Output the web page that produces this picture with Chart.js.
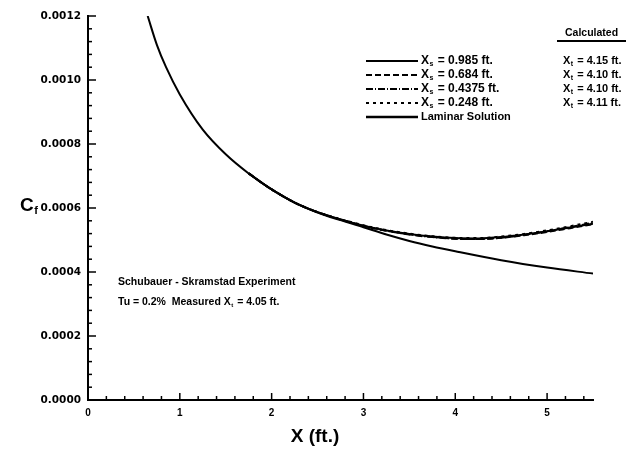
<!DOCTYPE html>
<html>
<head>
<meta charset="utf-8">
<script src="https://cdn.jsdelivr.net/npm/chart.js@4.4.1/dist/chart.umd.min.js"></script>
<style>
  html, body { margin: 0; padding: 0; background: #fff; }
  #wrap { width: 639px; height: 455px; }
</style>
</head>
<body>
<div id="wrap"><canvas id="cf-chart" width="639" height="455"></canvas></div>
<script>
/* laminar solution */
const laminarX = [0.65, 0.75, 0.85, 1.0, 1.25, 1.5, 1.75, 2.0, 2.25, 2.5, 2.75, 3.0, 3.25, 3.5, 3.75, 4.0, 4.5, 5.0, 5.5];
const laminarCf = [0.00120, 0.00111, 0.00104, 0.000955, 0.000845, 0.000768, 0.000708, 0.000658, 0.000617, 0.000586, 0.000562, 0.000540, 0.000517, 0.000497, 0.000480, 0.000465, 0.000437, 0.000414, 0.000395];

/* transitional runs, one per starting location */
const transX = [1.75, 2.0, 2.25, 2.5, 2.75, 3.0, 3.25, 3.5, 3.75, 4.0, 4.25, 4.5, 4.75, 5.0, 5.25, 5.5];
const cfXs0985 = [0.000708, 0.000658, 0.000617, 0.000587, 0.000564, 0.000545, 0.000530, 0.000519, 0.000511, 0.000506, 0.000505, 0.000509, 0.000517, 0.000527, 0.000539, 0.000551];
const cfXs0684 = [0.000708, 0.000658, 0.000617, 0.000587, 0.000564, 0.000544, 0.000529, 0.000518, 0.000510, 0.000504, 0.000503, 0.000507, 0.000515, 0.000525, 0.000537, 0.000549];
const cfXs04375 = [0.000708, 0.000658, 0.000617, 0.000587, 0.000564, 0.000544, 0.000529, 0.000517, 0.000509, 0.000504, 0.000503, 0.000507, 0.000516, 0.000527, 0.000540, 0.000554];
const cfXs0248 = [0.000708, 0.000658, 0.000617, 0.000587, 0.000565, 0.000546, 0.000531, 0.000520, 0.000512, 0.000507, 0.000506, 0.000511, 0.000519, 0.000530, 0.000543, 0.000557];

const seriesLabels = ["= 0.985 ft.", "= 0.684 ft.", "= 0.4375 ft.", "= 0.248 ft."];
const calculatedXt = ["= 4.15 ft.", "= 4.10 ft.", "= 4.10 ft.", "= 4.11 ft."];
const xTicks = [0, 1, 2, 3, 4, 5];
const yTicks = [0, 0.0002, 0.0004, 0.0006, 0.0008, 0.0010, 0.0012];

function toPoints(xs, ys) {
  return xs.map(function (x, i) { return { x: x, y: ys[i] }; });
}

const dashes = [[], [6, 3], [7, 2, 1, 2], [3, 4]];
const transSeries = [cfXs0985, cfXs0684, cfXs04375, cfXs0248];

const datasets = transSeries.map(function (ys, i) {
  return {
    label: "Xs " + seriesLabels[i],
    data: toPoints(transX, ys),
    borderColor: "#000",
    borderWidth: 2,
    borderDash: dashes[i],
    pointRadius: 0,
    showLine: true,
    cubicInterpolationMode: "monotone",
  };
});
datasets.push({
  label: "Laminar Solution",
  data: toPoints(laminarX, laminarCf),
  borderColor: "#000",
  borderWidth: 2,
  pointRadius: 0,
  showLine: true,
  cubicInterpolationMode: "monotone",
});

const BOLD = "bold ";
const FAMILY = "'Liberation Sans', Arial, sans-serif";

/* text with a subscript, e.g. X with s below */
function subText(ctx, x, y, main, sub, rest, size) {
  ctx.font = BOLD + size + "px " + FAMILY;
  ctx.fillText(main, x, y);
  let w = ctx.measureText(main).width;
  ctx.font = BOLD + Math.round(size * 0.6) + "px " + FAMILY;
  ctx.fillText(sub, x + w + 0.5, y + size * 0.28);
  w += ctx.measureText(sub).width + 1.5;
  ctx.font = BOLD + size + "px " + FAMILY;
  ctx.fillText(rest, x + w, y);
}

const extrasPlugin = {
  id: "extras",
  afterDraw: function (chart) {
    const ctx = chart.ctx;
    const xs = chart.scales.x;
    const ys = chart.scales.y;
    ctx.save();
    ctx.strokeStyle = "#000";
    ctx.fillStyle = "#000";
    ctx.lineWidth = 1.5;

    /* inward ticks: major and minor */
    for (let i = 0; i <= 27; i++) {
      const px = xs.getPixelForValue(i * 0.2);
      const len = i % 5 === 0 ? 7 : 4;
      ctx.beginPath();
      ctx.moveTo(px, ys.bottom);
      ctx.lineTo(px, ys.bottom - len);
      ctx.stroke();
    }
    for (let i = 0; i <= 30; i++) {
      const py = ys.getPixelForValue(i * 0.00004);
      const len = i % 5 === 0 ? 8 : 4;
      ctx.beginPath();
      ctx.moveTo(xs.left, py);
      ctx.lineTo(xs.left + len, py);
      ctx.stroke();
    }

    /* legend, left column */
    ctx.textBaseline = "middle";
    ctx.textAlign = "left";
    const rowY = [61, 75, 89, 103, 117];
    chart.data.datasets.forEach(function (ds, i) {
      ctx.lineWidth = i === 4 ? 2.5 : 2;
      ctx.setLineDash(ds.borderDash || []);
      ctx.beginPath();
      ctx.moveTo(366, rowY[i]);
      ctx.lineTo(418, rowY[i]);
      ctx.stroke();
      ctx.setLineDash([]);
      if (i < 4) {
        subText(ctx, 421, rowY[i], "X", "s", " " + seriesLabels[i], 12);
      } else {
        ctx.font = BOLD + "11px " + FAMILY;
        ctx.fillText("Laminar Solution", 421, rowY[i]);
      }
    });

    /* legend, right column */
    ctx.font = BOLD + "10.5px " + FAMILY;
    ctx.fillText("Calculated", 565, 33);
    ctx.lineWidth = 2;
    ctx.beginPath();
    ctx.moveTo(557, 41);
    ctx.lineTo(626, 41);
    ctx.stroke();
    calculatedXt.forEach(function (t, i) {
      subText(ctx, 563, rowY[i], "X", "t", " " + t, 11);
    });

    /* notes in the plot */
    ctx.font = BOLD + "10.5px " + FAMILY;
    ctx.fillText("Schubauer - Skramstad Experiment", 118, 282);
    subText(ctx, 118, 302, "Tu = 0.2%  Measured X", "t", " = 4.05 ft.", 10.5);

    /* axis titles */
    subText(ctx, 20, 206, "C", "f", "", 19);
    ctx.font = BOLD + "19px " + FAMILY;
    ctx.textAlign = "center";
    ctx.fillText("X (ft.)", 315, 437);
    ctx.restore();
  },
};

new Chart(document.getElementById("cf-chart"), {
  type: "scatter",
  data: { datasets: datasets },
  options: {
    responsive: false,
    animation: false,
    events: [],
    layout: { padding: { top: 16, right: 46, left: 0, bottom: 0 } },
    plugins: { legend: { display: false }, tooltip: { enabled: false } },
    scales: {
      x: {
        type: "linear",
        min: 0,
        max: 5.5,
        afterFit: function (scale) { scale.height = 55; },
        afterBuildTicks: function (scale) {
          scale.ticks = xTicks.map(function (v) { return { value: v }; });
        },
        ticks: {
          color: "#000",
          padding: 7,
          maxRotation: 0,
          font: { family: FAMILY, weight: "bold", size: 10 },
          callback: function (v) { return String(v); },
        },
        grid: { display: false, drawTicks: false },
        border: { display: true, color: "#000", width: 2 },
      },
      y: {
        type: "linear",
        min: 0,
        max: 0.0012,
        afterFit: function (scale) { scale.width = 88; },
        afterBuildTicks: function (scale) {
          scale.ticks = yTicks.map(function (v) { return { value: v }; });
        },
        ticks: {
          color: "#000",
          padding: 7,
          font: { family: "'DejaVu Sans', sans-serif", weight: "bold", size: 10.5 },
          callback: function (v) { return Number(v).toFixed(4); },
        },
        grid: { display: false, drawTicks: false },
        border: { display: true, color: "#000", width: 2 },
      },
    },
  },
  plugins: [extrasPlugin],
});
</script>
</body>
</html>
